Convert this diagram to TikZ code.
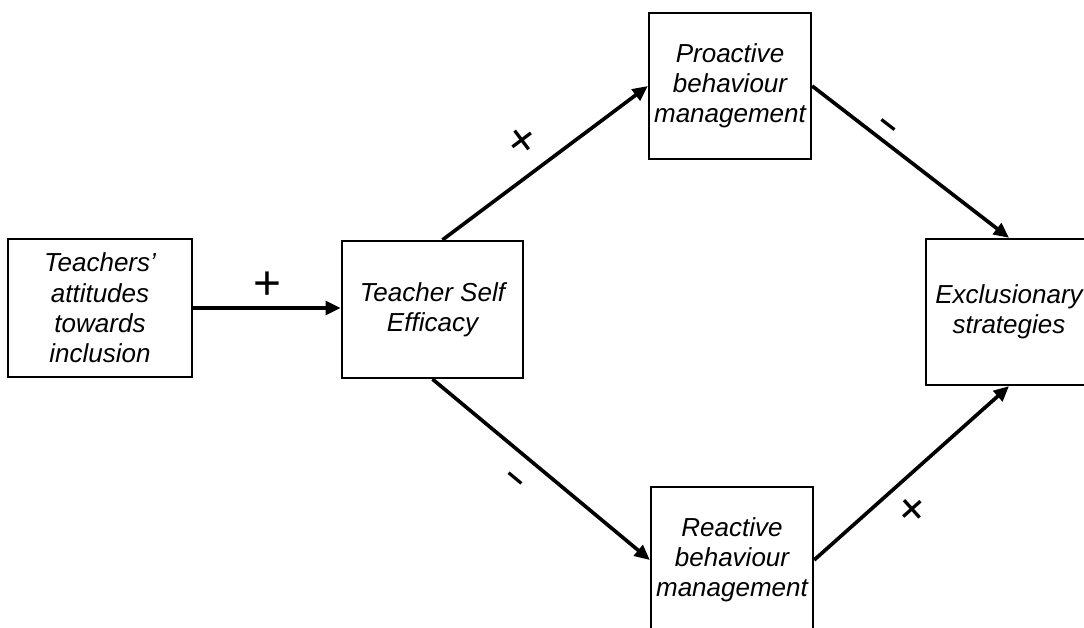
\documentclass[tikz,border=0pt]{standalone}
\usepackage{fontspec}
\setmainfont{Liberation Sans}
\usetikzlibrary{arrows.meta}
\tikzset{
  box/.style={draw,line width=1.6pt,minimum width=4.05cm,minimum height=3.65cm,align=center,inner sep=0pt,font=\fontsize{18.5}{21.5}\selectfont\itshape},
  link/.style={line width=2.6pt,-{Triangle[length=0.38cm,width=0.34cm]}},
  plus/.style={font=\fontsize{34}{34}\selectfont,inner sep=0pt},
  minus/.style={font=\fontsize{24}{24}\selectfont\bfseries,inner sep=0pt}
}
\begin{document}
\begin{tikzpicture}[x=0.025cm,y=-0.025cm]
\useasboundingbox (0,0) rectangle (1084,628);
% boxes
\node[box,minimum width=4.6cm,minimum height=3.45cm] (attitudes) at (100,308) {Teachers’\\attitudes\\towards\\inclusion};
\node[box,minimum width=4.525cm,minimum height=3.425cm] (efficacy) at (432.5,309.5) {Teacher Self\\Efficacy};
\node[box] (proactive) at (730,86) {Proactive\\behaviour\\management};
\node[box] (reactive) at (732,560) {Reactive\\behaviour\\management};
\node[box,minimum width=4.15cm] (exclusion) at (1009,312) {Exclusionary\\strategies};
% paths
\draw[link] (attitudes.east) -- node[plus,midway,yshift=0.55cm] {+} (attitudes.east -| efficacy.west);
\draw[link] ([xshift=0.25cm]efficacy.north) -- node[plus,pos=0.48,sloped,yshift=0.75cm] {+} (proactive.west);
\draw[link] (efficacy.south) -- node[minus,pos=0.45,sloped,yshift=-0.68cm] {–} (reactive.west);
\draw[link] (proactive.east) -- node[minus,pos=0.34,sloped,yshift=0.3cm] {–} (exclusion.north);
\draw[link] (reactive.east) -- node[plus,pos=0.41,sloped,yshift=-0.75cm] {+} (exclusion.south);
\end{tikzpicture}
\end{document}
